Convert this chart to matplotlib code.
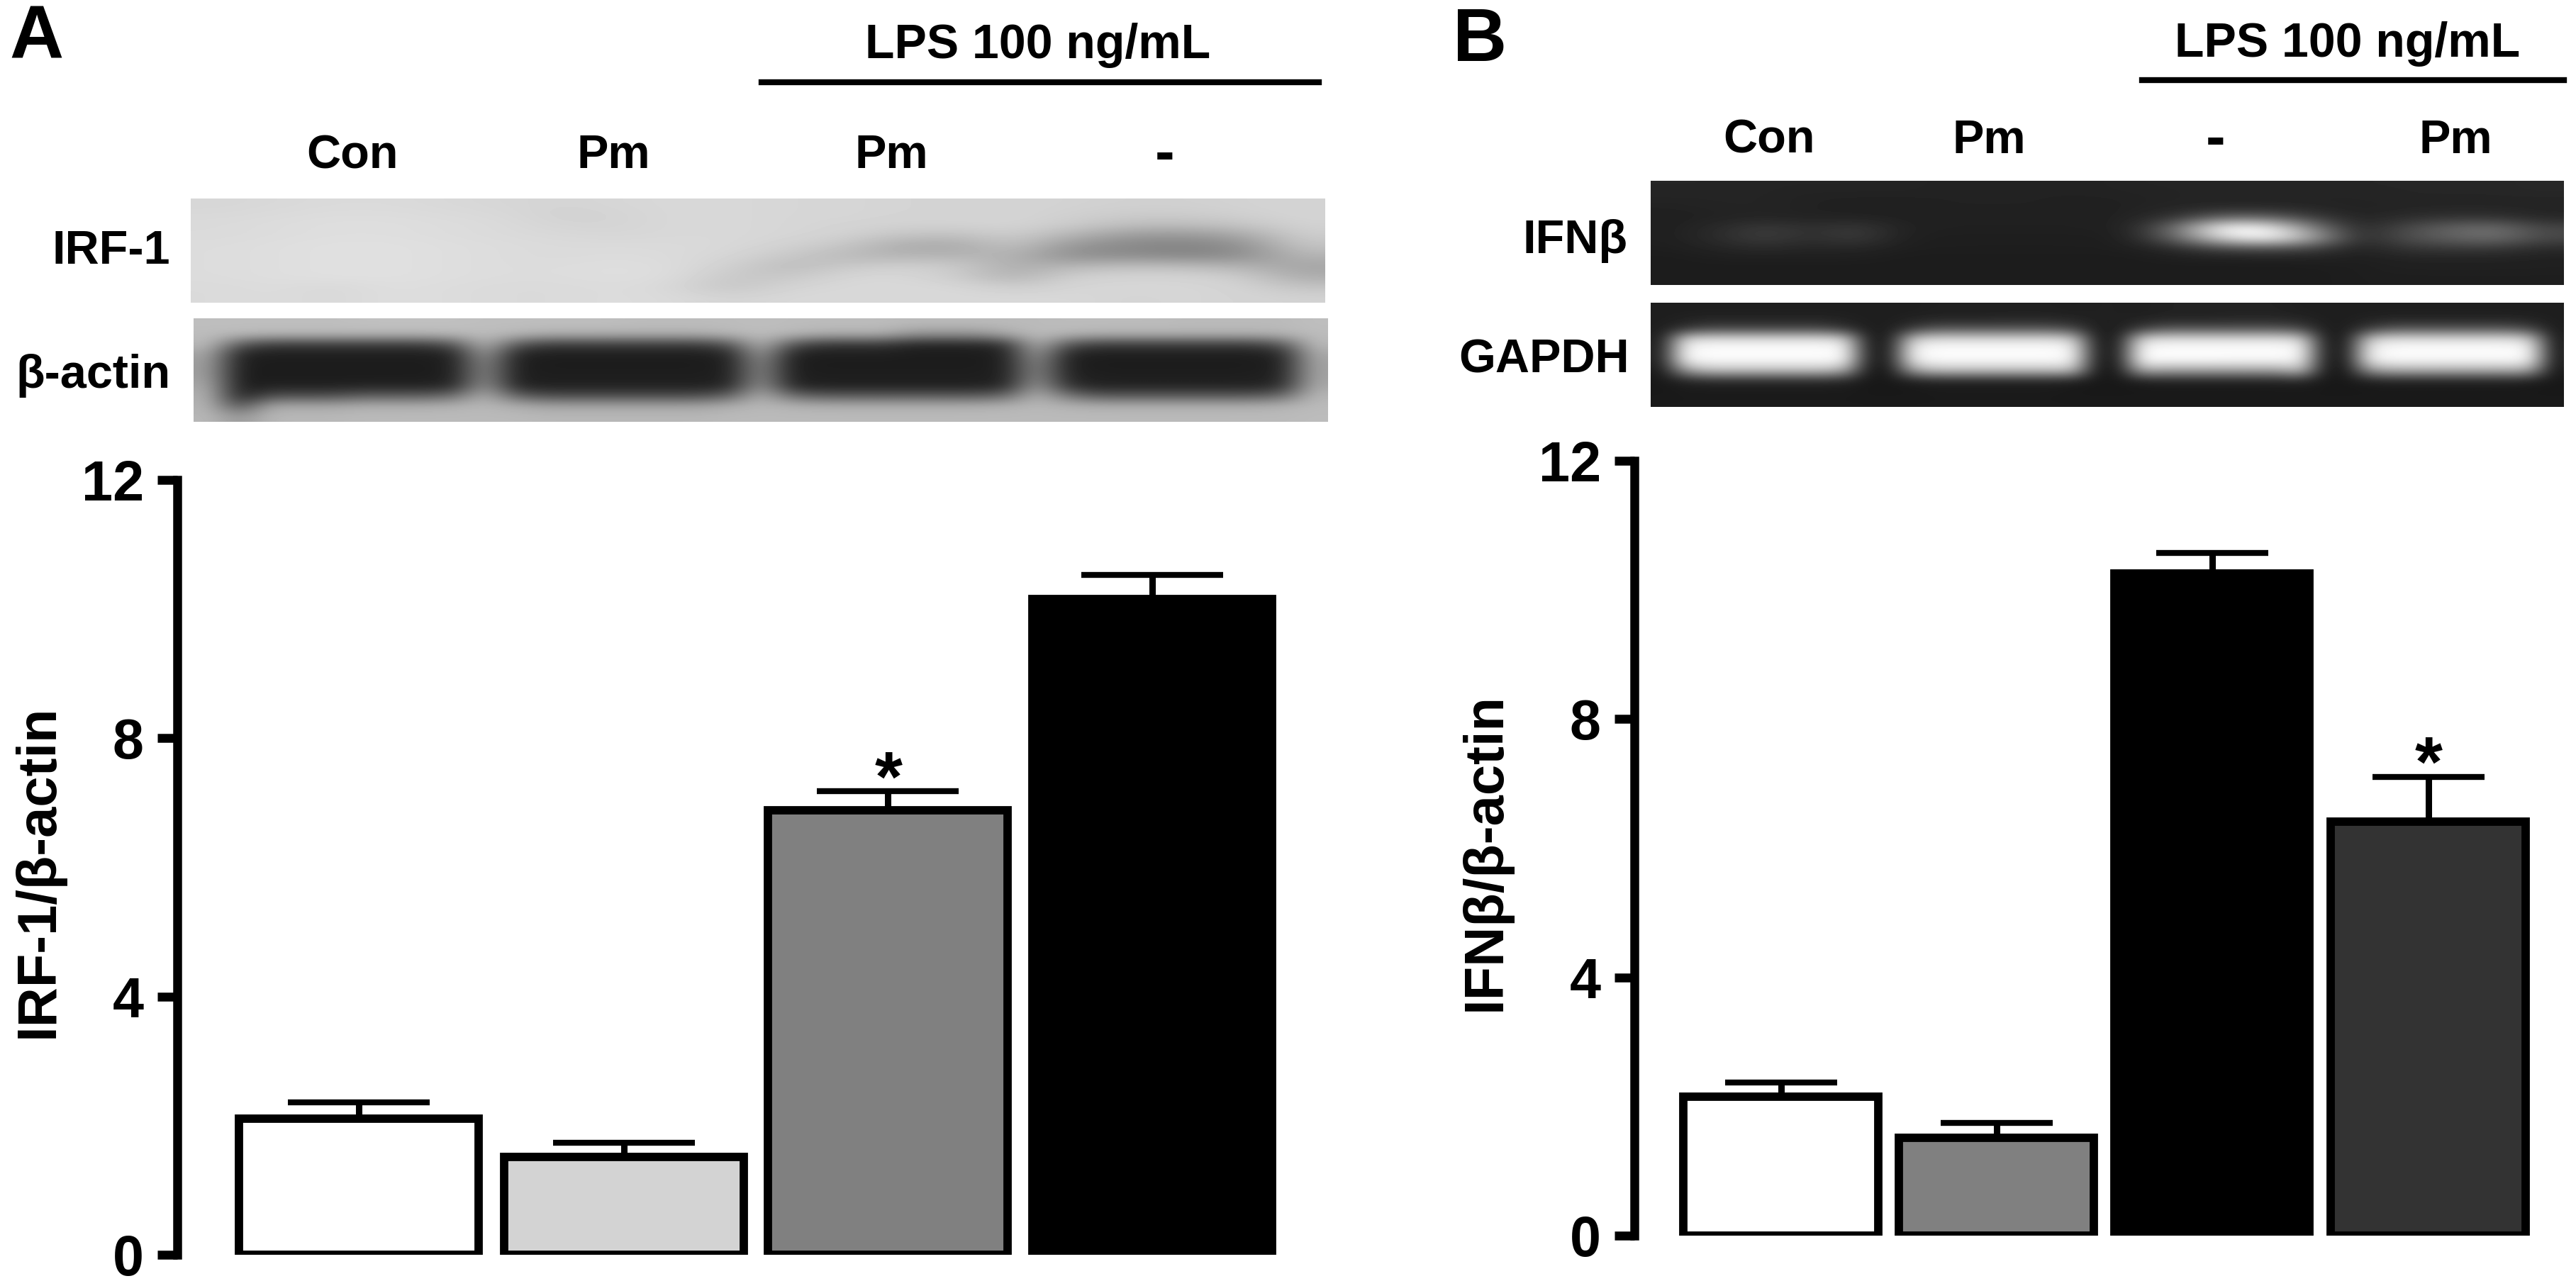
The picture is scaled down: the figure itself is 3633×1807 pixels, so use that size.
import numpy as np
import matplotlib
matplotlib.use('Agg')
import matplotlib.pyplot as plt

W, H = 3633, 1807

labels_a = ['Con', 'Pm', 'Pm', '-']
labels_b = ['Con', 'Pm', '-', 'Pm']
values_a = [2.11, 1.52, 6.88, 10.16]
errors_a = [0.25, 0.21, 0.30, 0.37]
values_b = [2.15, 1.52, 10.25, 6.41]
errors_b = [0.22, 0.23, 0.32, 0.69]
colors_a = ['white', '#d3d3d3', '#808080', 'black']
colors_b = ['white', '#808080', 'black', '#333333']
yticks = [0, 4, 8, 12]

# hand read grey levels of the blots, coarse grids
irf_blot = [
    [214, 216, 218, 218, 216, 214, 212, 214, 216, 216, 214, 214, 212, 212, 212, 210, 208, 208, 210, 212],
    [216, 218, 220, 220, 218, 216, 210, 212, 216, 216, 214, 214, 212, 212, 212, 208, 204, 204, 208, 212],
    [218, 220, 222, 222, 220, 218, 212, 212, 216, 216, 214, 212, 210, 210, 212, 204, 190, 188, 196, 210],
    [218, 220, 222, 222, 220, 218, 216, 214, 216, 216, 214, 210, 196, 192, 206, 180, 156, 152, 165, 205],
    [220, 222, 224, 224, 222, 220, 218, 218, 218, 216, 210, 198, 172, 168, 196, 150, 135, 130, 140, 196],
    [220, 222, 224, 224, 222, 220, 218, 220, 218, 214, 200, 186, 180, 180, 180, 142, 142, 135, 140, 180],
    [220, 222, 224, 224, 222, 220, 220, 222, 220, 208, 188, 200, 208, 204, 172, 182, 190, 188, 178, 165],
    [220, 222, 224, 224, 222, 220, 220, 222, 220, 200, 198, 214, 216, 205, 176, 208, 212, 212, 205, 172],
    [218, 220, 216, 222, 220, 218, 218, 220, 216, 196, 212, 216, 216, 216, 204, 214, 214, 214, 212, 195],
    [218, 220, 216, 222, 220, 218, 218, 220, 218, 212, 216, 216, 216, 216, 216, 216, 212, 214, 212, 210],
]
actin_blot = [
    [190, 190, 190, 192, 192, 190, 190, 190, 188, 188, 190, 188, 188, 186, 186, 186, 188, 188, 186, 186, 190],
    [188, 186, 184, 184, 186, 188, 184, 176, 176, 184, 188, 184, 176, 150, 170, 188, 182, 178, 178, 182, 188],
    [186, 90, 62, 62, 85, 184, 90, 62, 62, 85, 184, 85, 55, 38, 50, 182, 85, 62, 62, 85, 186],
    [165, 34, 30, 30, 34, 160, 36, 30, 30, 36, 160, 34, 30, 28, 32, 160, 36, 30, 30, 36, 170],
    [160, 30, 28, 28, 32, 145, 32, 28, 28, 32, 145, 30, 28, 28, 32, 145, 32, 28, 28, 32, 165],
    [160, 28, 28, 28, 32, 145, 32, 30, 30, 32, 145, 32, 30, 30, 32, 145, 36, 30, 30, 34, 165],
    [170, 28, 32, 34, 38, 155, 36, 32, 32, 38, 155, 38, 32, 32, 38, 160, 48, 34, 34, 42, 170],
    [178, 30, 80, 95, 110, 178, 100, 78, 78, 100, 178, 110, 92, 92, 105, 180, 120, 90, 90, 105, 182],
    [180, 80, 170, 176, 180, 184, 176, 166, 166, 176, 184, 180, 176, 176, 180, 184, 180, 176, 176, 180, 186],
    [184, 150, 184, 186, 186, 186, 186, 184, 184, 186, 186, 186, 186, 186, 186, 186, 186, 186, 186, 186, 188],
]
actin_cols = [1, 1, 3, 3, 1, 1, 1, 3, 3, 1, 1, 1, 3, 3, 1, 1, 1, 3, 3, 1, 1]
ifn_blot = [
    [38, 38, 36, 36, 36, 36, 34, 34, 34, 34, 36, 36, 36, 36, 36, 38, 38, 38, 38, 40],
    [36, 36, 36, 34, 34, 34, 34, 34, 34, 34, 34, 36, 36, 36, 36, 36, 38, 38, 38, 38],
    [34, 36, 36, 34, 32, 32, 34, 34, 34, 32, 34, 36, 38, 38, 36, 34, 36, 36, 36, 36],
    [32, 34, 36, 34, 34, 32, 32, 32, 32, 32, 34, 50, 100, 100, 60, 34, 44, 50, 50, 38],
    [32, 42, 60, 46, 58, 34, 32, 32, 32, 32, 34, 110, 255, 250, 130, 36, 72, 100, 112, 70],
    [32, 44, 62, 44, 60, 32, 30, 30, 30, 30, 32, 100, 215, 255, 170, 36, 78, 96, 112, 72],
    [30, 36, 42, 36, 38, 30, 30, 30, 30, 30, 30, 42, 70, 76, 66, 32, 52, 56, 56, 42],
    [28, 30, 30, 30, 30, 28, 28, 28, 28, 28, 28, 30, 30, 30, 32, 30, 34, 34, 34, 32],
    [28, 28, 28, 28, 28, 28, 28, 28, 28, 28, 28, 28, 28, 28, 28, 30, 32, 32, 32, 32],
    [28, 28, 28, 28, 28, 28, 28, 28, 28, 28, 28, 28, 28, 28, 28, 30, 30, 30, 30, 30],
]
gapdh_blot = [
    [30, 30, 30, 30, 30, 30, 30, 32, 32, 30, 32, 30, 34, 34, 30, 30, 30, 30, 30, 30, 30],
    [30, 32, 34, 34, 32, 30, 32, 34, 36, 34, 32, 32, 34, 36, 34, 30, 32, 34, 34, 32, 30],
    [30, 50, 70, 70, 50, 30, 60, 85, 85, 70, 30, 60, 85, 85, 70, 30, 60, 85, 85, 70, 30],
    [30, 215, 226, 226, 215, 30, 205, 222, 222, 210, 30, 215, 226, 226, 215, 30, 205, 225, 225, 210, 30],
    [32, 246, 254, 254, 250, 32, 244, 254, 254, 248, 32, 250, 254, 254, 250, 32, 240, 254, 254, 250, 30],
    [32, 240, 250, 250, 246, 32, 236, 250, 250, 245, 30, 248, 250, 248, 240, 30, 236, 248, 248, 245, 30],
    [26, 150, 190, 190, 170, 26, 160, 190, 190, 190, 26, 170, 160, 160, 190, 26, 150, 170, 170, 165, 26],
    [24, 34, 40, 40, 36, 24, 30, 34, 34, 30, 24, 30, 34, 34, 38, 24, 30, 34, 34, 30, 24],
    [24, 26, 26, 26, 26, 24, 24, 26, 26, 24, 24, 24, 24, 24, 24, 24, 24, 24, 24, 24, 24],
    [26, 26, 26, 26, 26, 26, 26, 26, 26, 26, 26, 26, 26, 26, 26, 26, 26, 26, 26, 26, 26],
]
gapdh_cols = [1, 1, 3, 3, 1, 2, 1, 3, 3, 1, 2, 1, 3, 3, 1, 2, 1, 3, 3, 1, 1]

plt.rcParams['font.family'] = ['Liberation Sans', 'DejaVu Sans']
plt.rcParams['font.weight'] = 'bold'

fig = plt.figure(figsize=(W / 100, H / 100), dpi=100, facecolor='white')


def box(x0, y0, x1, y1):
    # pixel box, y from the top of the picture
    return fig.add_axes([x0 / W, 1 - y1 / H, (x1 - x0) / W, (y1 - y0) / H])


def txt(x, y, s, size=46, ha='center', **kw):
    fig.text(x / W, 1 - y / H, s, fontsize=size, ha=ha, va='center', fontweight='bold', **kw)


def blot(x0, y0, x1, y1, grid, cols=None):
    ax = box(x0, y0, x1, y1)
    img = np.array(grid)
    if cols is not None:
        img = np.repeat(img, cols, axis=1)
    ax.imshow(img, cmap='gray', vmin=0, vmax=255, aspect='auto', interpolation='bicubic')
    ax.axis('off')


def bars(x0, y0, x1, y1, positions, width, values, errors, colors, ylabel, label_x, cap):
    ax = box(x0, y0, x1, y1)
    ax.bar(positions, values, width, color=colors, edgecolor='black', linewidth=8.5, zorder=2)
    ax.errorbar(positions, values, yerr=[[0] * 4, errors], fmt='none', ecolor='black',
                elinewidth=6.5, capsize=cap, capthick=6, zorder=1)
    ax.set_ylim(0, 12)
    ax.set_xlim(x0, x1)
    ax.set_yticks(yticks)
    ax.set_xticks([])
    ax.tick_params(axis='y', width=9, length=20, labelsize=57, pad=14)
    for t in ax.get_yticklabels():
        t.set_fontweight('bold')
    for s in ['top', 'right', 'bottom']:
        ax.spines[s].set_visible(False)
    ax.spines['left'].set_linewidth(9)
    ax.patch.set_alpha(0)
    fig.text(label_x / W, 1 - (y0 + y1) / 2 / H - 0.003, ylabel, rotation=90, fontsize=56,
             fontweight='bold', ha='center', va='center')
    return ax


# panel A
txt(51, 55, 'A', size=76)
txt(1464, 64, 'LPS 100 ng/mL', size=49)
fig.add_artist(plt.Line2D([1074 / W, 1860 / W], [1 - 116 / H] * 2, color='black', lw=6))
for x, s in zip([497, 865, 1257, 1643], labels_a):
    txt(x, 220, s, size=60 if s == '-' else 48)
txt(240, 355, 'IRF-1', ha='right', size=48)
txt(241, 530, 'β-actin', ha='right', size=48)
blot(269, 280, 1868, 427, irf_blot)
blot(273, 449, 1873, 595, actin_blot, actin_cols)
ax_a = bars(250, 677, 1830, 1770, [506, 880, 1252, 1625], 338,
            values_a, errors_a, colors_a, 'IRF-1/β-actin', 54, 72)
ax_a.text(1253, 7.32, '*', fontsize=72, ha='center', va='center')

# panel B
txt(2087, 59, 'B', size=76)
txt(3311, 62, 'LPS 100 ng/mL', size=49)
fig.add_artist(plt.Line2D([3021 / W, 3616 / W], [1 - 113 / H] * 2, color='black', lw=6))
for x, s in zip([2495, 2805, 3125, 3463], labels_b):
    txt(x, 199, s, size=60 if s == '-' else 48)
txt(2296, 340, 'IFNβ', ha='right', size=48)
txt(2298, 508, 'GAPDH', ha='right', size=48)
blot(2328, 255, 3616, 402, ifn_blot)
blot(2328, 427, 3616, 574, gapdh_blot, gapdh_cols)
ax_b = bars(2305, 650, 3620, 1743, [2512, 2816, 3120, 3425], 275,
            values_b, errors_b, colors_b, 'IFNβ/β-actin', 2095, 57)
ax_b.text(3425, 7.25, '*', fontsize=72, ha='center', va='center')

fig.savefig('out.png', dpi=100)
